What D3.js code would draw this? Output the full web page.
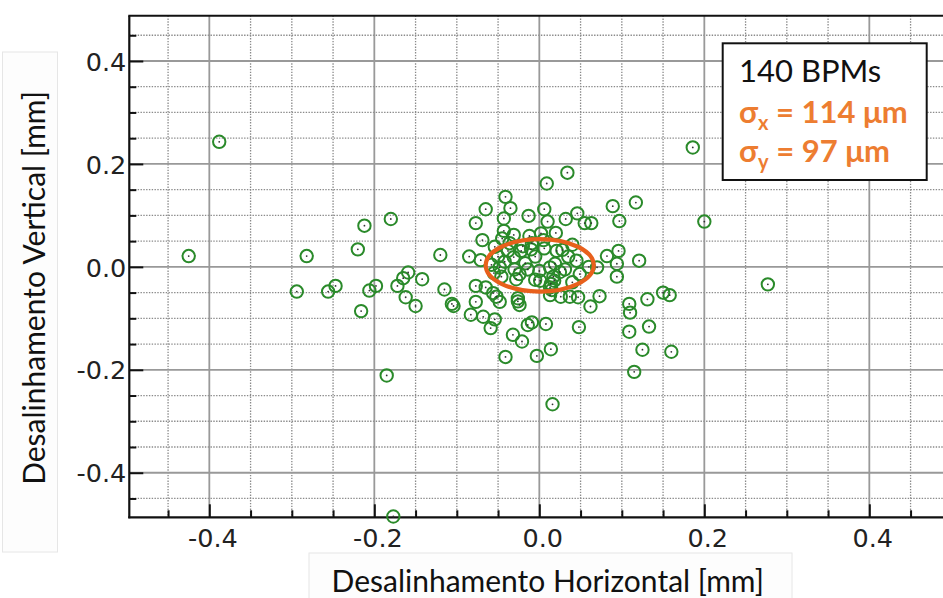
<!DOCTYPE html>
<html><head><meta charset="utf-8">
<script src="https://cdn.jsdelivr.net/npm/d3@7"></script>
<style>html,body{margin:0;padding:0;background:#fff;}svg{display:block;}</style>
</head><body>
<svg id="chart" width="943" height="598"></svg>
<script>
// ---- data (mm) ----
const xValues = [
-0.388,-0.425,0.186,0.200,0.277,-0.177,0.016,-0.185,-0.282,-0.294,
-0.256,-0.247,-0.216,-0.220,-0.212,-0.180,-0.206,-0.198,-0.172,-0.165,
-0.159,-0.142,-0.162,-0.150,-0.120,-0.115,-0.106,-0.104,0.009,0.034,
-0.041,-0.035,-0.065,-0.077,-0.043,-0.013,0.006,0.010,0.032,0.046,
0.055,0.063,0.089,0.117,0.097,-0.043,-0.069,-0.031,0.002,0.020,
0.040,0.045,0.049,0.070,0.082,0.096,0.094,0.121,0.094,-0.071,
-0.077,-0.077,-0.083,-0.068,-0.054,-0.059,-0.056,-0.052,-0.048,-0.026,
-0.024,-0.032,-0.021,-0.041,-0.003,0.014,-0.009,-0.014,0.008,0.048,
0.013,0.026,0.037,0.047,0.062,0.073,0.109,0.110,0.131,0.150,
0.158,0.109,0.133,0.125,0.160,0.115,-0.050,-0.048,-0.046,-0.038,
-0.031,-0.022,-0.010,-0.017,-0.014,-0.024,-0.028,-0.005,0.013,0.019,
0.017,0.014,0.013,0.021,0.028,0.031,0.006,-0.058,-0.055,-0.042,
0.001,0.005,-0.009,-0.036,-0.054,-0.026,0.015,0.018,-0.065,-0.020,
0.035,-0.005,-0.030,0.025,-0.045,0.000,-0.085,0.040,-0.012,0.060];
const yValues = [
0.243,0.021,0.232,0.088,-0.034,-0.485,-0.267,-0.211,0.021,-0.048,
-0.048,-0.037,-0.086,0.034,0.080,0.093,-0.046,-0.037,-0.037,-0.022,
-0.011,-0.024,-0.059,-0.076,0.023,-0.044,-0.072,-0.076,0.162,0.183,
0.136,0.114,0.112,0.085,0.094,0.099,0.112,0.088,0.093,0.104,
0.085,0.085,0.118,0.125,0.089,0.070,0.052,0.062,0.065,0.066,
0.043,0.012,-0.014,-0.001,0.021,0.031,0.006,0.012,-0.019,0.013,
-0.037,-0.068,-0.093,-0.097,-0.102,-0.119,-0.051,-0.058,-0.068,-0.061,
-0.074,-0.132,-0.145,-0.175,-0.173,-0.160,-0.108,-0.113,-0.111,-0.117,
-0.055,-0.058,-0.058,-0.059,-0.077,-0.057,-0.072,-0.089,-0.063,-0.050,
-0.055,-0.126,-0.116,-0.161,-0.165,-0.204,0.020,-0.001,-0.019,0.031,
0.019,0.031,0.034,0.007,-0.005,-0.014,-0.024,-0.025,-0.001,0.006,
-0.019,-0.033,-0.040,0.031,0.033,-0.005,0.036,0.004,-0.012,0.010,
-0.027,0.052,0.046,0.046,0.039,-0.067,-0.045,-0.027,-0.040,0.040,
0.020,0.020,-0.005,-0.010,0.055,-0.008,0.020,-0.030,0.060,0.000];

const xMajorTicks = [-0.4, -0.2, 0.0, 0.2, 0.4];
const yMajorTicks = [-0.4, -0.2, 0.0, 0.2, 0.4];
const xMinorTicks = [-0.45,-0.35,-0.3,-0.25,-0.15,-0.1,-0.05,0.05,0.1,0.15,0.25,0.3,0.35,0.45];
const yMinorTicks = [-0.45,-0.35,-0.3,-0.25,-0.15,-0.1,-0.05,0.05,0.1,0.15,0.25,0.3,0.35,0.45];
const xLimits = [-0.497, 0.5];
const yLimits = [-0.4866, 0.488];

const ellipseCenter = [0.0005, 0.003];
const ellipseRadii = [0.0655, 0.051];

const legendLines = ["140 BPMs", "σx = 114 μm", "σy = 97 μm"];
const xTitle = "Desalinhamento Horizontal [mm]";
const yTitle = "Desalinhamento Vertical [mm]";

// ---- drawing ----
const svg = d3.select("#chart");
const L = 129.3, T = 15.7, B = 517.3;
const x = d3.scaleLinear().domain(xLimits).range([L, L + (xLimits[1]-xLimits[0])*825]);
const y = d3.scaleLinear().domain(yLimits).range([B, T]);
const R = x(xLimits[1]);

svg.append("rect").attr("width",943).attr("height",598).attr("fill","#fff");

// title boxes (faint)
svg.append("rect").attr("x",309).attr("y",553).attr("width",483).attr("height",60)
  .attr("fill","#fdfdfd").attr("stroke","#e6e6e6").attr("stroke-width",1);
svg.append("rect").attr("x",2.5).attr("y",52).attr("width",55).attr("height",500)
  .attr("fill","#fdfdfd").attr("stroke","#e6e6e6").attr("stroke-width",1);

const plot = svg.append("g");
// minor grid
plot.selectAll(".vminor").data(xMinorTicks).join("line")
  .attr("x1",d=>x(d)).attr("x2",d=>x(d)).attr("y1",T).attr("y2",B)
  .attr("stroke","#8a8a8a").attr("stroke-width",1.3).attr("stroke-dasharray","1.4,1.4");
plot.selectAll(".hminor").data(yMinorTicks).join("line")
  .attr("x1",L).attr("x2",R).attr("y1",d=>y(d)).attr("y2",d=>y(d))
  .attr("stroke","#8a8a8a").attr("stroke-width",1.3).attr("stroke-dasharray","1.4,1.4");
// major grid
plot.selectAll(".vmajor").data(xMajorTicks).join("line")
  .attr("x1",d=>x(d)).attr("x2",d=>x(d)).attr("y1",T).attr("y2",B)
  .attr("stroke","#999").attr("stroke-width",1.8);
plot.selectAll(".hmajor").data(yMajorTicks).join("line")
  .attr("x1",L).attr("x2",R).attr("y1",d=>y(d)).attr("y2",d=>y(d))
  .attr("stroke","#999").attr("stroke-width",1.8);

// axes ticks
const fmt = d => d.toFixed(1);
const gx = svg.append("g").attr("transform",`translate(0,${B})`)
  .call(d3.axisBottom(x).tickValues(xMajorTicks).tickSize(-13).tickSizeOuter(0).tickPadding(12).tickFormat(fmt));
const gxm = svg.append("g").attr("transform",`translate(0,${B})`)
  .call(d3.axisBottom(x).tickValues(xMinorTicks).tickSize(-7).tickSizeOuter(0).tickFormat(""));
const gy = svg.append("g").attr("transform",`translate(${L},0)`)
  .call(d3.axisLeft(y).tickValues(yMajorTicks).tickSize(-14).tickSizeOuter(0).tickPadding(3).tickFormat(fmt));
const gym = svg.append("g").attr("transform",`translate(${L},0)`)
  .call(d3.axisLeft(y).tickValues(yMinorTicks).tickSize(-7).tickSizeOuter(0).tickFormat(""));
[gx,gxm,gy,gym].forEach(g=>{
  g.select(".domain").remove();
  g.selectAll(".tick line").attr("stroke","#111").attr("stroke-width",2);
  g.selectAll(".tick text").attr("font-family","DejaVu Sans").attr("font-size",25.5).attr("fill","#222");
});
gx.selectAll(".tick text").attr("dx","3px");
gy.selectAll(".tick text").attr("dy","0.36em");

// frame
svg.append("line").attr("x1",L).attr("x2",L).attr("y1",T).attr("y2",B+1).attr("stroke","#111").attr("stroke-width",2.2);
svg.append("line").attr("x1",L-1).attr("x2",R).attr("y1",B).attr("y2",B).attr("stroke","#111").attr("stroke-width",2.2);
svg.append("line").attr("x1",L-1).attr("x2",R).attr("y1",T).attr("y2",T).attr("stroke","#111").attr("stroke-width",2);

// points
const pts = xValues.map((v,i)=>({x:v,y:yValues[i]}));
const pg = svg.append("g");
pg.selectAll("circle.ring").data(pts).join("circle").attr("class","ring")
  .attr("cx",d=>x(d.x)).attr("cy",d=>y(d.y)).attr("r",6.2)
  .attr("fill","none").attr("stroke","#2a8a2a").attr("stroke-width",2);
pg.selectAll("circle.dot").data(pts).join("circle").attr("class","dot")
  .attr("cx",d=>x(d.x)).attr("cy",d=>y(d.y)).attr("r",0.9).attr("fill","#333");

// ellipse
svg.append("ellipse")
  .attr("cx",x(ellipseCenter[0])).attr("cy",y(ellipseCenter[1]))
  .attr("rx",x(ellipseRadii[0])-x(0)).attr("ry",y(0)-y(ellipseRadii[1]))
  .attr("fill","none").attr("stroke","#e8601c").attr("stroke-width",4.2);

// legend box
svg.append("rect").attr("x",722.7).attr("y",43.3).attr("width",204).attr("height",136.7)
  .attr("fill","#fff").attr("stroke","#111").attr("stroke-width",2);
const lg = svg.append("g").attr("font-family","Lato");
lg.append("text").attr("x",739).attr("y",81.7).attr("font-size",31).attr("fill","#111").text(legendLines[0]);
[1,2].forEach((k,i)=>{
  const s = legendLines[k];
  const t = lg.append("text").attr("x",739).attr("y",122.7+39*i).attr("font-size",31)
    .attr("font-weight","bold").attr("fill","#ed7d31");
  t.append("tspan").text(s[0]);
  t.append("tspan").attr("font-size",20).attr("dy",7).text(s[1]);
  t.append("tspan").attr("dy",-7).text(s.slice(2));
});

// titles
svg.append("text").attr("x",547.7).attr("y",591.5).attr("text-anchor","middle")
  .attr("font-family","Lato").attr("font-size",30).attr("fill","#111").text(xTitle);
svg.append("text").attr("transform","translate(45,288) rotate(-90)").attr("text-anchor","middle")
  .attr("font-family","Lato").attr("font-size",30).attr("fill","#111").text(yTitle);
</script>
</body></html>
